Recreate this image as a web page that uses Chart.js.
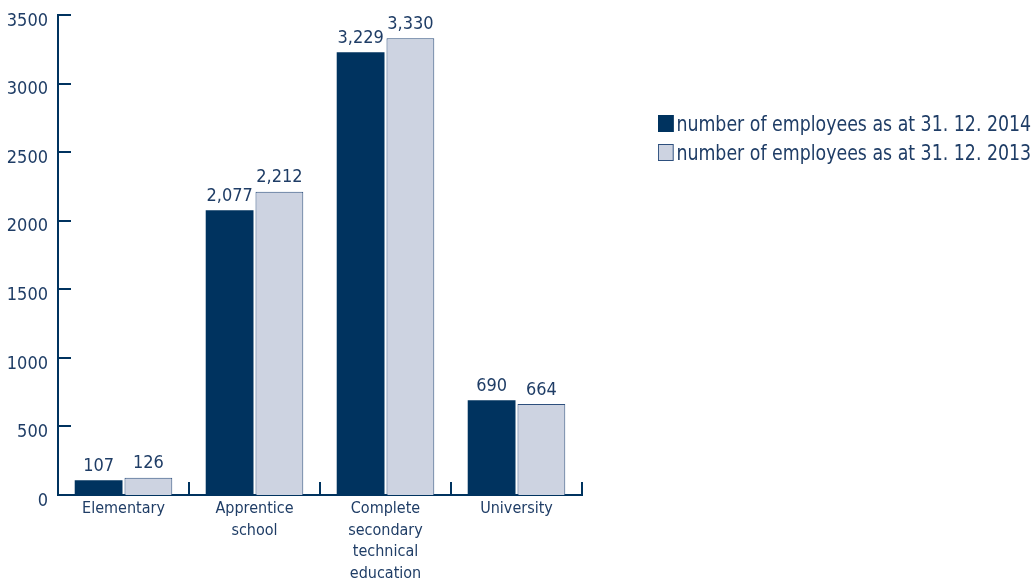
<!DOCTYPE html>
<html>
<head>
<meta charset="utf-8">
<script src="https://cdn.jsdelivr.net/npm/chart.js@4.4.0/dist/chart.umd.min.js"></script>
<style>
  html, body { margin: 0; padding: 0; background: #fff; }
  #wrap { position: relative; width: 1033px; height: 579px; }
  #legend { position: absolute; left: 658px; top: 109px; font-family: 'DejaVu Sans Condensed', 'Liberation Sans Narrow', sans-serif; font-size: 21px; color: #1f3d66; transform: scaleX(0.92); transform-origin: left top; }
  #legend div { height: 29px; display: flex; align-items: center; white-space: nowrap; }
  #legend span.box { width: 17px; height: 17px; margin-right: 3px; box-sizing: border-box; display: inline-block; }
</style>
</head>
<body>
<div id="wrap">
  <canvas id="chart" width="1033" height="579"></canvas>
  <div id="legend"></div>
</div>
<script>
const categories = [['Elementary'], ['Apprentice', 'school'], ['Complete', 'secondary', 'technical', 'education'], ['University']];
const seriesNames = ['number of employees as at 31. 12. 2014', 'number of employees as at 31. 12. 2013'];
const employees2014 = [107, 2077, 3229, 690];
const employees2013 = [126, 2212, 3330, 664];
const yTicks = [0, 500, 1000, 1500, 2000, 2500, 3000, 3500];

const dark = '#00335f';
const light = '#cdd3e1';
const lightBorder = '#2d4f7d';
const textColor = '#1f3d66';
const fontFamily = "'DejaVu Sans Condensed', 'Liberation Sans Narrow', sans-serif";

// legend
const legend = document.getElementById('legend');
[[dark, dark], [light, lightBorder]].forEach(function(c, i) {
    const row = document.createElement('div');
    row.innerHTML = '<span class="box" style="background:' + c[0] + ';border:1px solid ' + c[1] + '"></span>' + seriesNames[i];
    legend.appendChild(row);
});

// inner tick marks and value labels
const extrasPlugin = {
    id: 'extras',
    afterDatasetsDraw(chart) {
        const ctx = chart.ctx;
        const x = chart.scales.x;
        const y = chart.scales.y;
        const step = x.getPixelForValue(1) - x.getPixelForValue(0);
        ctx.save();
        ctx.strokeStyle = dark;
        ctx.lineWidth = 2;
        yTicks.forEach(function(v) {
            const py = Math.round(y.getPixelForValue(v));
            ctx.beginPath();
            ctx.moveTo(x.left, py);
            ctx.lineTo(x.left + 13, py);
            ctx.stroke();
        });
        for (let i = 0; i < categories.length; i++) {
            const px = x.getPixelForValue(i) + step / 2;
            ctx.beginPath();
            ctx.moveTo(px, y.bottom);
            ctx.lineTo(px, y.bottom - 13);
            ctx.stroke();
        }
        ctx.fillStyle = textColor;
        ctx.font = '18px ' + fontFamily;
        ctx.textAlign = 'center';
        ctx.textBaseline = 'bottom';
        chart.data.datasets.forEach(function(ds, di) {
            chart.getDatasetMeta(di).data.forEach(function(bar, i) {
                ctx.fillText(ds.data[i].toLocaleString('en-US'), bar.x, bar.y - 5);
            });
        });
        ctx.restore();
    }
};

new Chart(document.getElementById('chart'), {
    type: 'bar',
    data: {
        labels: categories,
        datasets: [{
            label: seriesNames[0],
            data: employees2014,
            backgroundColor: dark,
            borderColor: dark,
            borderWidth: 0
        }, {
            label: seriesNames[1],
            data: employees2013,
            backgroundColor: light,
            borderColor: lightBorder,
            borderWidth: 1
        }]
    },
    options: {
        responsive: false,
        animation: false,
        categoryPercentage: 0.76,
        barPercentage: 0.96,
        layout: { padding: { top: 15, right: 451, left: 0, bottom: 0 } },
        plugins: { legend: { display: false }, tooltip: { enabled: false } },
        scales: {
            x: {
                grid: { display: false, drawTicks: false },
                border: { display: true, color: dark, width: 2 },
                ticks: { color: textColor, font: { family: fontFamily, size: 16, lineHeight: 1.35 }, padding: 3, maxRotation: 0, autoSkip: false },
                afterFit(scale) { scale.height = 84; }
            },
            y: {
                min: 0,
                max: 3500,
                grid: { display: false, drawTicks: false },
                border: { display: true, color: dark, width: 2 },
                afterBuildTicks(scale) { scale.ticks = yTicks.map(function(v) { return { value: v }; }); },
                ticks: { color: textColor, font: { family: fontFamily, size: 18 }, padding: 10, labelOffset: 6, callback: function(v) { return String(v); } },
                afterFit(scale) { scale.width = 58; scale.paddingTop = 0; scale.paddingBottom = 0; }
            }
        }
    },
    plugins: [extrasPlugin]
});
</script>
</body>
</html>
